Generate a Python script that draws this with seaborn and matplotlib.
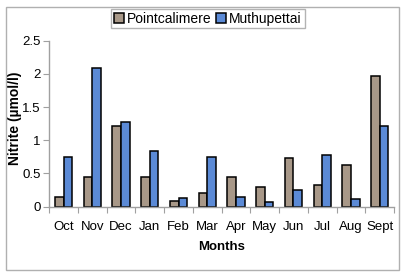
import seaborn as sns
import matplotlib.pyplot as plt
import pandas as pd
from matplotlib.patches import Rectangle

# Data
months = ['Oct', 'Nov', 'Dec', 'Jan', 'Feb', 'Mar', 'Apr', 'May', 'Jun', 'Jul', 'Aug', 'Sept']
pointcalimere = [0.15, 0.44, 1.21, 0.45, 0.085, 0.21, 0.44, 0.29, 0.73, 0.32, 0.63, 1.96]
muthupettai = [0.75, 2.09, 1.27, 0.84, 0.125, 0.75, 0.15, 0.065, 0.25, 0.78, 0.12, 1.21]
stations = ['Pointcalimere', 'Muthupettai']

df = pd.DataFrame({
    'Month': months * 2,
    'Nitrite': pointcalimere + muthupettai,
    'Station': [stations[0]] * len(months) + [stations[1]] * len(months),
})

plt.rcParams['font.family'] = ['Liberation Sans', 'DejaVu Sans']

fig = plt.figure(figsize=(4.07, 2.78), dpi=100)
ax = fig.add_axes([0.121, 0.2565, 0.847, 0.5975])

palette = {'Pointcalimere': '#a89888', 'Muthupettai': '#5b8ad6'}
sns.barplot(data=df, x='Month', y='Nitrite', hue='Station', palette=palette,
            width=0.6, edgecolor='black', linewidth=1.1, saturation=1, ax=ax)

ax.set_ylim(0, 2.5)
ax.set_yticks([0, 0.5, 1, 1.5, 2, 2.5])
ax.set_yticklabels(['0', '0.5', '1', '1.5', '2', '2.5'], fontsize=9.5)
ax.set_xlim(-0.5, len(months) - 0.5)

# ticks at category boundaries
ax.set_xticks([i - 0.5 for i in range(len(months) + 1)], minor=False)
ax.set_xticklabels([])
ax.set_xticks(range(len(months)), minor=True)
ax.set_xticklabels(months, minor=True, fontsize=9.5)
ax.tick_params(axis='x', which='major', length=4, color='#a0a0a0')
ax.tick_params(axis='x', which='minor', length=0, pad=10)
ax.tick_params(axis='y', length=4, color='#a0a0a0', pad=2)

for side in ['top', 'right']:
    ax.spines[side].set_visible(False)
for side in ['left', 'bottom']:
    ax.spines[side].set_color('#a0a0a0')
    ax.spines[side].set_linewidth(1)

ax.set_xlabel('Months', fontsize=9.5, fontweight='bold', labelpad=6)
ax.set_ylabel('Nitrite (µmol/l)', fontsize=10, fontweight='bold')
ax.yaxis.set_label_coords(-0.078, 0.53)

leg = ax.legend(loc='center', bbox_to_anchor=(0.511, 0.933), bbox_transform=fig.transFigure,
                ncol=2, frameon=True, fancybox=False, fontsize=10, handlelength=0.7,
                handleheight=0.7, handletextpad=0.25, columnspacing=0.3,
                borderpad=0.2, borderaxespad=0)
leg.get_frame().set_edgecolor('#a0a0a0')
leg.get_frame().set_linewidth(1)

fig.patches.append(Rectangle((0.015, 0.03), 0.965, 0.945, transform=fig.transFigure,
                             fill=False, edgecolor='#b0b0b0', linewidth=1))

fig.savefig('out.png', dpi=100)
